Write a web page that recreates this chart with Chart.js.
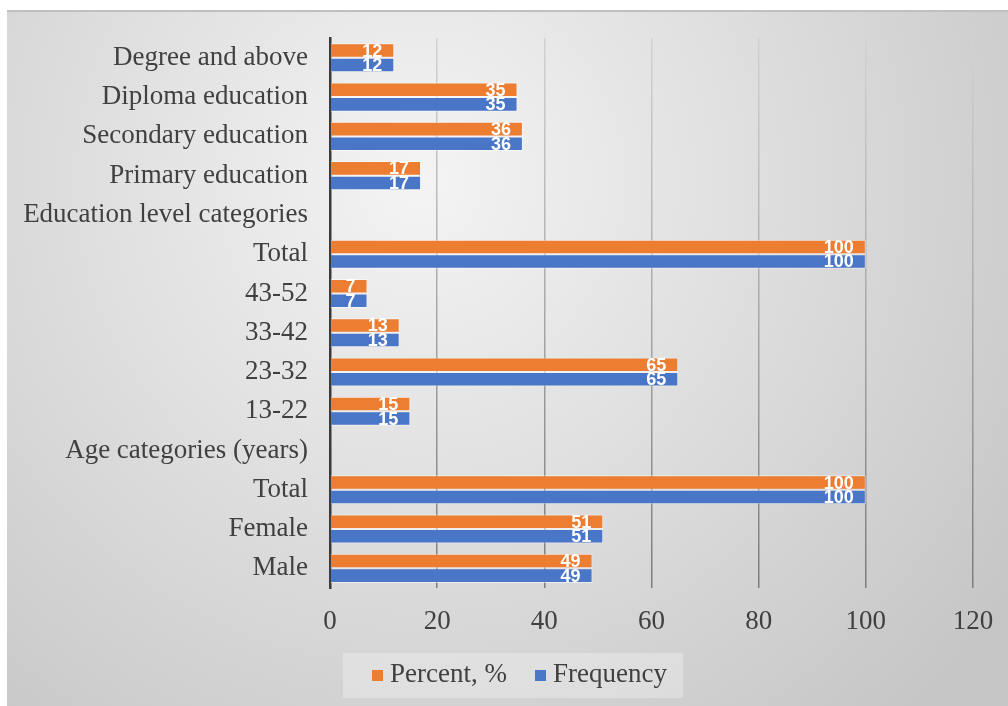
<!DOCTYPE html>
<html>
<head>
<meta charset="utf-8">
<script src="https://cdn.jsdelivr.net/npm/chart.js@4.4.1/dist/chart.umd.min.js"></script>
<style>
  html, body { margin: 0; padding: 0; background: #ffffff; }
  #wrap { width: 1008px; height: 706px; position: relative; }
  canvas { display: block; }
</style>
</head>
<body>
<div id="wrap"><canvas id="c" width="1008" height="706"></canvas></div>
<script>
// ---- data ----
const categories = [
  'Degree and above',
  'Diploma education',
  'Secondary education',
  'Primary education',
  'Education level categories',
  'Total',
  '43-52',
  '33-42',
  '23-32',
  '13-22',
  'Age categories (years)',
  'Total',
  'Female',
  'Male'
];
const percentValues   = [12, 35, 36, 17, null, 100, 7, 13, 65, 15, null, 100, 51, 49];
const frequencyValues = [12, 35, 36, 17, null, 100, 7, 13, 65, 15, null, 100, 51, 49];
const seriesNames = ['Percent, %', 'Frequency'];
const xTicks = [0, 20, 40, 60, 80, 100, 120];

const ORANGE = '#ED7D31';
const BLUE = '#4A76C8';
const TEXT = '#404040';
const SERIF = "'Liberation Serif', 'Times New Roman', serif";

const bgPlugin = {
  id: 'bg',
  beforeDraw(chart) {
    const ctx = chart.ctx;
    ctx.save();
    ctx.fillStyle = '#ffffff';
    ctx.fillRect(0, 0, chart.width, chart.height);
    const g = ctx.createRadialGradient(420, 180, 0, 420, 180, 720);
    g.addColorStop(0, '#f4f4f4');
    g.addColorStop(1, '#c6c6c6');
    ctx.fillStyle = g;
    ctx.fillRect(7, 10, chart.width - 7, chart.height - 10);
    ctx.strokeStyle = '#c0c0c0';
    ctx.lineWidth = 2;
    ctx.beginPath();
    ctx.moveTo(7, 11);
    ctx.lineTo(chart.width, 11);
    ctx.stroke();
    ctx.restore();
  }
};

const labelPlugin = {
  id: 'barLabels',
  afterDatasetsDraw(chart) {
    const ctx = chart.ctx;
    ctx.save();
    ctx.font = "bold 18px 'Liberation Sans', Arial, sans-serif";
    ctx.fillStyle = '#ffffff';
    ctx.textAlign = 'right';
    ctx.textBaseline = 'middle';
    chart.data.datasets.forEach((ds, di) => {
      const meta = chart.getDatasetMeta(di);
      meta.data.forEach((el, i) => {
        const v = ds.data[i];
        if (v === null || v === undefined) return;
        ctx.fillText(String(v), el.x - 12, el.y + 1);
      });
    });
    ctx.restore();
  }
};

const legendPlugin = {
  id: 'customLegend',
  afterDraw(chart) {
    const ctx = chart.ctx;
    ctx.save();
    ctx.fillStyle = 'rgba(255,255,255,0.28)';
    ctx.fillRect(343, 653, 340, 45);
    ctx.font = '27px ' + SERIF;
    ctx.textBaseline = 'middle';
    ctx.textAlign = 'left';
    const colors = [ORANGE, BLUE];
    const sq = [372, 535];
    const tx = [390, 553];
    seriesNames.forEach((n, i) => {
      ctx.fillStyle = colors[i];
      ctx.fillRect(sq[i], 670, 11, 11);
      ctx.fillStyle = TEXT;
      ctx.fillText(n, tx[i], 675);
    });
    ctx.restore();
  }
};

function gridColor(context) {
  const chart = context.chart;
  const area = chart.chartArea;
  if (!area) return '#a0a0a0';
  if (context.tick && context.tick.value === 0) return 'rgba(0,0,0,0)';
  const g = chart.ctx.createLinearGradient(0, area.top, 0, area.bottom);
  g.addColorStop(0, '#d2d2d2');
  g.addColorStop(1, '#7c7c7c');
  return g;
}

new Chart(document.getElementById('c'), {
  type: 'bar',
  data: {
    labels: categories,
    datasets: [
      {
        label: seriesNames[0],
        data: percentValues,
        backgroundColor: ORANGE,
        borderColor: 'rgba(255,255,255,0.5)',
        borderWidth: 1,
        barPercentage: 1,
        categoryPercentage: 0.74
      },
      {
        label: seriesNames[1],
        data: frequencyValues,
        backgroundColor: BLUE,
        borderColor: 'rgba(255,255,255,0.5)',
        borderWidth: 1,
        barPercentage: 1,
        categoryPercentage: 0.74
      }
    ]
  },
  options: {
    indexAxis: 'y',
    responsive: false,
    animation: false,
    layout: { padding: { left: 0, right: 35, top: 37, bottom: 58 } },
    plugins: {
      legend: { display: false },
      tooltip: { enabled: false }
    },
    scales: {
      x: {
        min: 0,
        max: 120,
        afterBuildTicks(scale) { scale.ticks = xTicks.map(v => ({ value: v })); },
        afterFit(scale) {
          scale.height = 60;
          scale.paddingLeft = 0;
          scale.paddingRight = 0;
        },
        ticks: {
          stepSize: 20,
          padding: 18,
          color: TEXT,
          font: { family: SERIF, size: 27 }
        },
        grid: {
          drawTicks: false,
          color: gridColor,
          lineWidth: 1.5
        },
        border: { display: false }
      },
      y: {
        afterFit(scale) { scale.width = 330; },
        ticks: {
          padding: 22,
          color: TEXT,
          autoSkip: false,
          font: { family: SERIF, size: 27 }
        },
        grid: { display: false, drawTicks: false },
        border: { display: true, color: '#3a3a3a', width: 2.5 }
      }
    }
  },
  plugins: [bgPlugin, labelPlugin, legendPlugin]
});
</script>
</body>
</html>
